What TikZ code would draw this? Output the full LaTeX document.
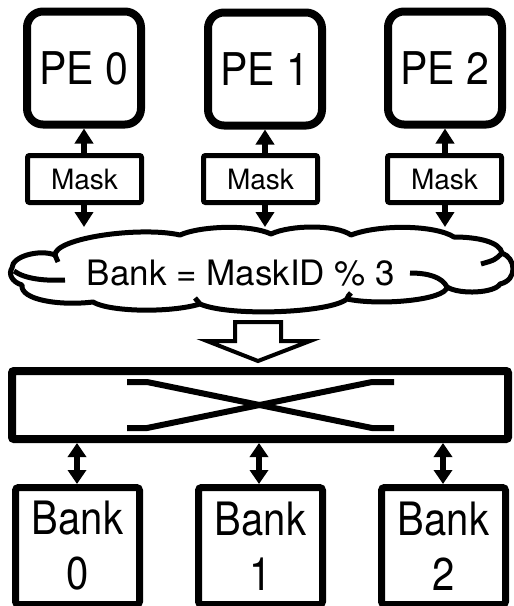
\documentclass[tikz,border=0pt]{standalone}
\usepackage{fontspec}
\setmainfont{TeX Gyre Heros}
\usetikzlibrary{arrows.meta}
\newcommand{\talltext}[2]{\scalebox{1}[#1]{#2}}
\begin{document}
\begin{tikzpicture}[x=1pt,y=-1pt,
  pebox/.style={draw, line width=8pt, rounded corners=16pt, minimum width=114pt,
    minimum height=113pt, inner sep=0pt, fill=white, font=\fontsize{41}{41}\selectfont},
  maskbox/.style={draw, line width=5pt, rounded corners=2pt, minimum width=114pt,
    minimum height=47pt, inner sep=0pt, fill=white, font=\fontsize{28}{28}\selectfont},
  bankbox/.style={draw, line width=7pt, rounded corners=3pt, minimum width=124pt,
    minimum height=117pt, inner sep=0pt, align=center, fill=white,
    font=\fontsize{40}{55}\selectfont},
  xbarbox/.style={draw, line width=8pt, rounded corners=2pt, minimum width=496pt,
    minimum height=68pt, inner sep=0pt, fill=white},
  oneway/.style={line width=5.5pt, -{Triangle[length=15pt,width=18pt]}},
  duplex/.style={line width=5.5pt, {Triangle[length=14pt,width=18pt]}-{Triangle[length=14pt,width=18pt]}},
  cloudline/.style={line width=5pt, line join=round},
  crossline/.style={line width=6pt},
]
\useasboundingbox[fill=white] (0,0) rectangle (514,606);

% processing elements
\node[pebox] (pe0) at (84,68) {\raisebox{-3pt}{\talltext{1.1}{PE 0}}};
\node[pebox] (pe1) at (265,69) {\raisebox{-3pt}{\talltext{1.1}{PE 1}}};
\node[pebox] (pe2) at (445,68) {\raisebox{-3pt}{\talltext{1.1}{PE 2}}};

% mask units
\node[maskbox] (m0) at (84.5,179) {Mask};
\node[maskbox] (m1) at (260.5,179) {Mask};
\node[maskbox] (m2) at (444.5,179) {Mask};

% arrow ends above the cloud
\coordinate (c0) at (84,227);
\coordinate (c1) at (265,227);
\coordinate (c2) at (445,227);

\draw[oneway] (m0.north -| pe0.south) -- (pe0.south);
\draw[oneway] (m1.north -| pe1.south) -- (pe1.south);
\draw[oneway] (m2.north -| pe2.south) -- (pe2.south);
\draw[oneway] (m0.south -| c0) -- (c0);
\draw[oneway] (m1.south -| c1) -- (c1);
\draw[oneway] (m2.south -| c2) -- (c2);

% the cloud
\draw[cloudline, fill=white]
  (12,268) .. controls (12,256) and (40,249) .. (55,255)
  .. controls (55,238) and (140,226) .. (180,235)
  .. controls (200,226) and (250,224) .. (271,234)
  .. controls (290,225) and (335,224) .. (351,235)
  .. controls (380,224) and (435,225) .. (454,237)
  .. controls (478,237) and (500,242) .. (502,253)
  .. controls (516,258) and (518,280) .. (500,284)
  .. controls (495,293) and (460,295) .. (447,287)
  .. controls (446,300) and (380,306) .. (347,299)
  .. controls (330,313) and (230,317) .. (200,304)
  .. controls (170,313) and (110,312) .. (93,302)
  .. controls (60,306) and (20,300) .. (22,285)
  .. controls (12,282) and (8,274) .. cycle;
% inner folds of the cloud
\draw[cloudline] (14,271) .. controls (25,279) and (45,281) .. (65,280);
\draw[cloudline] (55,255) .. controls (57,258) .. (58,262);
\draw[cloudline] (447,287) .. controls (442,277) and (428,273) .. (410,273);
\draw[cloudline] (502,253) .. controls (495,260) .. (481,264);
\draw[cloudline] (347,299) .. controls (348,296) .. (351,293);
\draw[cloudline] (200,304) .. controls (198,301) .. (195,298);
\node[font=\fontsize{35}{35}\selectfont, inner sep=0pt] (rule) at (241,273) {Bank = MaskID \% 3};

% hollow block arrow into the crossbar
\draw[line width=4pt, line join=miter, fill=white]
  (235,322) -- (235,341) -- (207,341) -- (258,361) -- (310,341)
  -- (281,341) -- (281,322) -- cycle;

% crossbar
\node[xbarbox] (xbar) at (260,405) {};
\draw[crossline] (127,382) -- (147,382) -- (372,428) -- (394,428);
\draw[crossline] (127,428) -- (147,428) -- (372,382) -- (394,382);

% memory banks
\node[bankbox] (b0) at (77.5,546) {\talltext{1.15}{Bank}\\\talltext{1.15}{0}};
\node[bankbox] (b1) at (260.5,546) {\talltext{1.15}{Bank}\\\talltext{1.15}{1}};
\node[bankbox] (b2) at (443.5,546) {\talltext{1.15}{Bank}\\\talltext{1.15}{2}};

\draw[duplex] (b0.north -| 77,0) -- (xbar.south -| 77,0);
\draw[duplex] (b1.north -| 259,0) -- (xbar.south -| 259,0);
\draw[duplex] (b2.north -| 443,0) -- (xbar.south -| 443,0);
\end{tikzpicture}
\end{document}
